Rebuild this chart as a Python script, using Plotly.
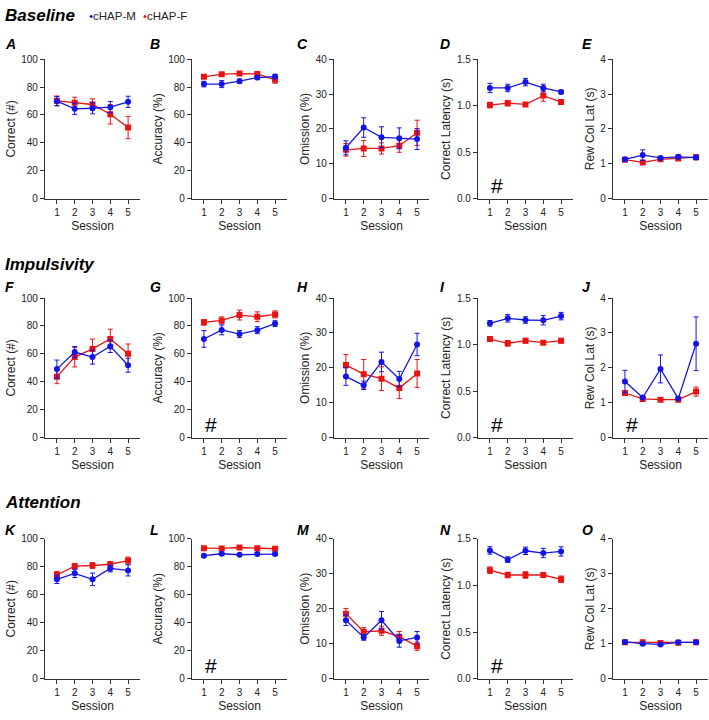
import plotly.graph_objects as go

# ---------------- data ----------------
sessions = [1, 2, 3, 4, 5]
panel_letters = ["A", "B", "C", "D", "E", "F", "G", "H", "I", "J", "K", "L", "M", "N", "O"]
row_titles = ["Baseline", "Impulsivity", "Attention"]
series_names = ["cHAP-M", "cHAP-F"]
y_titles = ["Correct (#)", "Accuracy (%)", "Omission (%)", "Correct Latency (s)", "Rew Col Lat (s)"]
y_tickvals = [[0, 20, 40, 60, 80, 100], [0, 20, 40, 60, 80, 100], [0, 10, 20, 30, 40],
              [0, 0.5, 1.0, 1.5], [0, 1, 2, 3, 4]]
y_ticktext = [["0", "20", "40", "60", "80", "100"], ["0", "20", "40", "60", "80", "100"],
              ["0", "10", "20", "30", "40"], ["0.0", "0.5", "1.0", "1.5"], ["0", "1", "2", "3", "4"]]
y_max = [100, 100, 40, 1.5, 4]
hash_panels = ["D", "G", "I", "J", "L", "N"]

# Baseline (A-E)
A_male = [69.9, 64.4, 64.8, 65.6, 69.4];   A_male_err = [3.3, 4.0, 4.0, 4.0, 4.0]
A_female = [70.1, 68.7, 67.5, 60.5, 51.0]; A_female_err = [3.5, 4.0, 4.0, 7.0, 8.0]
B_male = [82.1, 82.1, 84.2, 86.8, 87.5];   B_male_err = [2.0, 2.5, 1.5, 1.5, 1.5]
B_female = [87.3, 89.2, 89.6, 89.4, 85.2]; B_female_err = [1.0, 1.0, 1.0, 1.0, 2.5]
C_male = [14.6, 20.4, 17.6, 17.3, 17.1];   C_male_err = [2.0, 2.8, 3.0, 3.0, 3.0]
C_female = [14.0, 14.4, 14.4, 15.2, 18.9]; C_female_err = [1.8, 2.3, 1.6, 1.9, 3.6]
D_male = [1.19, 1.19, 1.253, 1.19, 1.147];   D_male_err = [0.05, 0.04, 0.04, 0.04, 0.02]
D_female = [1.006, 1.027, 1.013, 1.108, 1.038]; D_female_err = [0.03, 0.03, 0.015, 0.06, 0.025]
E_male = [1.13, 1.25, 1.17, 1.20, 1.18];   E_male_err = [0.03, 0.15, 0.04, 0.06, 0.05]
E_female = [1.12, 1.04, 1.13, 1.15, 1.19]; E_female_err = [0.03, 0.04, 0.04, 0.05, 0.07]

# Impulsivity (F-J)
F_male = [49.1, 61.3, 57.7, 65.5, 51.9];   F_male_err = [6.5, 4.0, 5.0, 4.5, 5.0]
F_female = [43.7, 57.7, 63.6, 70.7, 60.1]; F_female_err = [5.0, 7.0, 7.0, 7.0, 7.0]
G_male = [70.7, 77.2, 74.2, 77.0, 81.7];   G_male_err = [6.0, 3.5, 2.5, 2.5, 2.0]
G_female = [82.6, 84.0, 87.8, 86.6, 88.3]; G_female_err = [2.0, 2.5, 3.5, 3.5, 2.5]
H_male = [17.5, 15.0, 21.7, 16.8, 26.7];   H_male_err = [2.5, 1.2, 2.8, 2.2, 3.2]
H_female = [20.8, 18.2, 16.9, 14.2, 18.4]; H_female_err = [3.0, 4.2, 3.4, 3.0, 4.0]
I_male = [1.229, 1.282, 1.264, 1.261, 1.306];   I_male_err = [0.03, 0.04, 0.035, 0.05, 0.04]
I_female = [1.06, 1.014, 1.042, 1.021, 1.042]; I_female_err = [0.02, 0.03, 0.025, 0.01, 0.025]
J_male = [1.61, 1.15, 1.97, 1.12, 2.69];   J_male_err = [0.32, 0.03, 0.40, 0.03, 0.77]
J_female = [1.28, 1.11, 1.09, 1.09, 1.32]; J_female_err = [0.07, 0.03, 0.02, 0.03, 0.13]

# Attention (K-O)
K_male = [71.1, 75.4, 71.1, 78.9, 77.5];   K_male_err = [3.0, 3.0, 4.5, 2.5, 4.0]
K_female = [74.2, 80.5, 81.0, 81.9, 84.5]; K_female_err = [2.5, 2.0, 2.0, 2.0, 2.5]
L_male = [88.0, 89.4, 88.7, 89.2, 89.2];   L_male_err = [1.0, 1.0, 1.0, 1.0, 1.0]
L_female = [93.4, 93.2, 93.9, 93.4, 93.0]; L_female_err = [0.6, 0.6, 0.6, 0.6, 0.6]
M_male = [16.7, 11.8, 16.7, 10.8, 11.8];   M_male_err = [1.5, 0.8, 2.5, 1.8, 1.7]
M_female = [18.6, 13.4, 13.7, 12.0, 9.3];  M_female_err = [1.5, 1.2, 1.3, 1.5, 1.2]
N_male = [1.377, 1.278, 1.373, 1.349, 1.366];   N_male_err = [0.04, 0.03, 0.04, 0.05, 0.05]
N_female = [1.165, 1.113, 1.113, 1.113, 1.067]; N_female_err = [0.035, 0.03, 0.035, 0.025, 0.035]
O_male = [1.05, 1.00, 0.98, 1.04, 1.04];   O_male_err = [0.03, 0.03, 0.03, 0.03, 0.03]
O_female = [1.04, 1.04, 1.02, 1.03, 1.04]; O_female_err = [0.03, 0.03, 0.03, 0.03, 0.03]

male_means = [A_male, B_male, C_male, D_male, E_male, F_male, G_male, H_male, I_male, J_male,
              K_male, L_male, M_male, N_male, O_male]
male_errs = [A_male_err, B_male_err, C_male_err, D_male_err, E_male_err, F_male_err, G_male_err,
             H_male_err, I_male_err, J_male_err, K_male_err, L_male_err, M_male_err, N_male_err, O_male_err]
female_means = [A_female, B_female, C_female, D_female, E_female, F_female, G_female, H_female,
                I_female, J_female, K_female, L_female, M_female, N_female, O_female]
female_errs = [A_female_err, B_female_err, C_female_err, D_female_err, E_female_err, F_female_err,
               G_female_err, H_female_err, I_female_err, J_female_err, K_female_err, L_female_err,
               M_female_err, N_female_err, O_female_err]

# ---------------- layout / style ----------------
W, H = 709, 720
BLUE = "#1414e8"
RED = "#e81414"
AXC = "#333333"
FONT = "Liberation Sans, Arial, sans-serif"
col_px = [(45, 140), (192, 287), (334, 429), (478, 573), (613, 708)]
row_px = [(54, 196), (297, 439), (542, 684)]   # (top, bottom)
letter_x = [3, 148, 295, 438, 580]
letter_y = [39, 286, 533]
row_title_y = [10, 263, 505]


def px_x(p):
    return p / W


def px_y(p):
    return 1 - p / H


fig = go.Figure()
layout = dict(width=W, height=H, margin=dict(l=0, r=0, t=0, b=0),
              paper_bgcolor="white", plot_bgcolor="white", showlegend=False,
              font=dict(family=FONT, color="#222222"))
annotations = []

for i in range(15):
    r, c = divmod(i, 5)
    n = "" if i == 0 else str(i + 1)
    xa, ya = "x" + n, "y" + n
    for means, errs, color, symbol, name in [
        (female_means[i], female_errs[i], RED, "square", series_names[1]),
        (male_means[i], male_errs[i], BLUE, "circle", series_names[0]),
    ]:
        fig.add_trace(go.Scatter(
            x=sessions, y=means, name=name, mode="lines+markers",
            line=dict(color=color, width=1.3),
            marker=dict(color=color, size=6, symbol=symbol),
            error_y=dict(type="data", array=errs, visible=True, color=color,
                         thickness=1, width=2.5),
            xaxis=xa, yaxis=ya))
    common = dict(showline=True, linecolor=AXC, linewidth=1.2, ticks="outside",
                  ticklen=4, tickwidth=1, tickcolor=AXC, showgrid=False, zeroline=False,
                  tickfont=dict(size=10, family=FONT, color="#222222"))
    layout["xaxis" + n] = dict(
        domain=[px_x(col_px[c][0]), px_x(col_px[c][1])], anchor=ya,
        range=[0.33, 5.67], tickvals=sessions,
        title=dict(text="Session", font=dict(size=12, family=FONT), standoff=4),
        **common)
    layout["yaxis" + n] = dict(
        domain=[px_y(row_px[r][1]), px_y(row_px[r][0])], anchor=xa,
        range=[0, y_max[c]], tickvals=y_tickvals[c], ticktext=y_ticktext[c],
        title=dict(text=y_titles[c], font=dict(size=12, family=FONT), standoff=3),
        **common)
    # panel letter
    annotations.append(dict(text="<b><i>%s</i></b>" % panel_letters[i], xref="paper", yref="paper",
                            x=px_x(letter_x[c]), y=px_y(letter_y[r]), xanchor="left",
                            yanchor="middle", showarrow=False,
                            font=dict(size=14, family=FONT, color="black")))
    if panel_letters[i] in hash_panels:
        annotations.append(dict(text="#", xref=xa, yref="paper", x=1.4,
                                y=px_y(row_px[r][1] - 13), xanchor="center", yanchor="middle",
                                showarrow=False, font=dict(size=21, family=FONT, color="black")))

for r in range(3):
    annotations.append(dict(text="<b><i>%s</i></b>" % row_titles[r], xref="paper", yref="paper",
                            x=px_x(3), y=px_y(row_title_y[r]), xanchor="left", yanchor="middle",
                            showarrow=False, font=dict(size=17, family=FONT, color="black")))

# legend (top row)
for lx, color, name in [(87, BLUE, series_names[0]), (141, RED, series_names[1])]:
    annotations.append(dict(text="<span style='color:%s'>•</span>%s" % (color, name),
                            xref="paper", yref="paper", x=px_x(lx), y=px_y(10),
                            xanchor="left", yanchor="middle", showarrow=False,
                            font=dict(size=11.5, family=FONT, color="#222222")))

layout["annotations"] = annotations
fig.update_layout(**layout)
fig.write_html("out.html")
